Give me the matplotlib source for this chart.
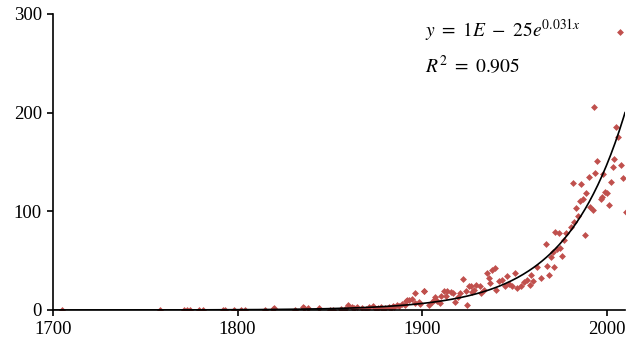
import numpy as np
import matplotlib
matplotlib.use("Agg")
import matplotlib.pyplot as plt

plt.rcParams['font.family'] = ['Liberation Serif', 'DejaVu Serif']
plt.rcParams['mathtext.fontset'] = 'stix'

# scatter values (year, value)
years = [
    1705, 1758, 1771, 1772.5, 1774, 1779, 1781.5, 1792, 1793, 1798, 1802, 1804,
    1815, 1819, 1820, 1831, 1835.6, 1836.3, 1838, 1844, 1850, 1852, 1856, 1858,
    1860, 1862, 1863, 1865, 1867.6, 1869.4, 1871, 1873.4, 1875, 1876, 1878, 1879,
    1880, 1882, 1883, 1884, 1885, 1886.4, 1887.3, 1889.1, 1890.9, 1891.5, 1892,
    1892.8, 1894.6, 1896, 1896.4, 1898.6, 1899.1, 1900.9, 1901.3, 1903.6, 1905.4,
    1906.3, 1907.2, 1908, 1909.6, 1910.5, 1911.7, 1912.8, 1913.6, 1915.7, 1916.8,
    1918.1, 1919.7, 1920.8, 1922, 1923.8, 1924.4, 1925.3, 1926.6, 1927.1, 1928,
    1929.3, 1931.6, 1932, 1933.4, 1935.3, 1936.2, 1937, 1938, 1939.3, 1940.3,
    1941.6, 1943.4, 1945.2, 1945.8, 1947, 1948.5, 1950.3, 1951.6, 1953.4, 1955.1,
    1957, 1958.4, 1958.8, 1960, 1962.4, 1964.6, 1967.1, 1967.8, 1968.7, 1970,
    1970.9, 1971.4, 1972.3, 1973.2, 1974.1, 1975, 1975.9, 1976.8, 1977.8, 1980.5,
    1981.9, 1982.3, 1983.7, 1984.4, 1985.4, 1986, 1987.2, 1988.2, 1989, 1990.4,
    1990.8, 1992.4, 1993.1, 1994, 1994.9, 1996.8, 1997.7, 1998.2, 1999.3, 2000.2,
    2001.1, 2002.5, 2003.5, 2004, 2004.9, 2006.2, 2007.2, 2008.1, 2009, 2010.3,
]
values = [
    0, 0, 0, 0, 0, 0, 0, 0, 0, 0, 0, 0,
    0, 1, 2, 0, 3, 2, 2, 2, 0, 0, 1, 1,
    5, 3, 2, 3, 2, 1, 3, 4, 1, 2, 3, 1,
    2, 3, 2, 4, 3, 5, 4, 6, 5, 9, 10,
    10, 11, 17, 7, 8.5, 6, 19.5, 19, 5, 8.5,
    10, 13.5, 9, 7, 14, 19, 14.5, 19.5, 18, 17,
    8.5, 13.5, 17, 31, 19.5, 5, 24, 24, 18, 20,
    25, 24, 17, 20, 37, 32, 27, 40.5, 43, 20,
    29, 30, 24, 34.5, 26, 24, 38, 22, 24, 28,
    30, 25, 35, 29, 44, 32, 66.5, 45, 35, 54,
    59, 44, 79, 61.5, 78, 62.5, 55, 71, 78, 84,
    129, 89.5, 103, 95, 110, 128, 113, 76, 119, 135,
    104, 101, 206, 139, 151, 113, 115, 138, 120, 119,
    106, 130, 145, 153, 185, 175, 282, 147, 134, 99,
]

# exponential trendline, y = a * exp(b * x)
trend_b = 0.031
trend_a = 200 / np.exp(trend_b * 2010)

x_ticks = [1700, 1800, 1900, 2000]
y_ticks = [0, 100, 200, 300]

fig = plt.figure(figsize=(6.27, 3.47), dpi=100)
ax = fig.add_axes([53 / 627, 1 - 310 / 347, 572 / 627, 296 / 347])

ax.plot(years, values, linestyle='none', marker='D', markersize=3.5,
        color='#C0504D', markeredgewidth=0, zorder=3)

xs = np.linspace(1700, 2010, 400)
ax.plot(xs, trend_a * np.exp(trend_b * xs), color='black', linewidth=1.2, zorder=4)

ax.set_xlim(1700, 2010)
ax.set_ylim(0, 300)
ax.set_xticks(x_ticks)
ax.set_yticks(y_ticks)
for s in ['top', 'right']:
    ax.spines[s].set_visible(False)
for s in ['left', 'bottom']:
    ax.spines[s].set_linewidth(1.2)
ax.tick_params(direction='out', length=4, width=1.2, labelsize=13.5, pad=4)
ax.spines['bottom'].set_zorder(5)

fig.text(425 / 627, 1 - 30 / 347, r"$y\ =\ 1E\ -\ 25e^{0.031x}$",
         fontsize=14, va='center', ha='left')
fig.text(425 / 627, 1 - 66 / 347, r"$R^{2}\ =\ 0.905$",
         fontsize=14, va='center', ha='left')

fig.savefig('out.png', dpi=100)
